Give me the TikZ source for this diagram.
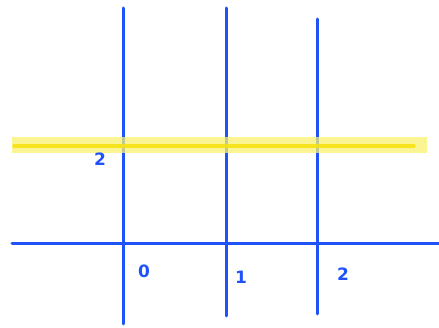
\documentclass[tikz,border=0pt]{standalone}
\usepackage{fontspec}
\setmainfont{DejaVu Sans}
\definecolor{penblue}{RGB}{32,82,250}
\definecolor{hilite}{RGB}{250,240,110}
\definecolor{hicore}{RGB}{245,226,10}
\begin{document}
\begin{tikzpicture}[x=1pt,y=-1pt,
    pen/.style={penblue, line width=3pt, line cap=round},
    lbl/.style={penblue, font=\fontsize{17}{17}\selectfont\bfseries, inner sep=0pt}]
    \useasboundingbox (0,0) rectangle (439,328);
    % Rette verticali a mano
    \foreach \xt/\yt/\xb/\yb in {123/8/123/324, 226/8/226/316, 317/19/317/314} {
      \draw[pen] (\xt,\yt) -- (\xb,\yb);
    }
    % Asse orizzontale
    \draw[pen] (12,244) -- (439,244);
    % Evidenziatore
    \fill[hilite, opacity=0.75] (12,137) rectangle (427,153);
    \draw[hicore, line width=3.5pt, line cap=round, opacity=0.85] (14,146) -- (414,146);
    % Etichette
    \node[lbl] (y2) at (100,159) {2};
    \node[lbl] (x0) at (144,271) {0};
    \node[lbl] (x1) at (241,277) {1};
    \node[lbl] (x2) at (343,274) {2};
  \end{tikzpicture}
\end{document}
